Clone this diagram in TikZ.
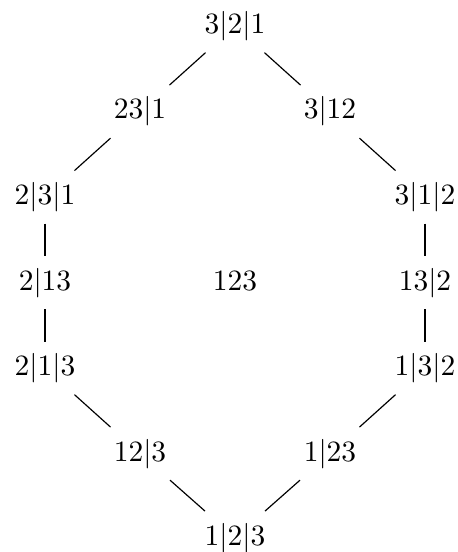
\documentclass[tikz,border=0pt]{standalone}
\begin{document}
\begin{tikzpicture}[x=0.339pt,y=-0.339pt,
  lbl/.style={inner sep=3.8pt, text height=7.5pt, text depth=2.5pt, anchor=base},
  edge/.style={line width=0.4pt}]
\useasboundingbox (0,0) rectangle (458,552);
\node[lbl] (a) at (235,33.5) {3|2|1};
\node[lbl] (b) at (140,119) {23|1};
\node[lbl] (c) at (330,119) {3|12};
\node[lbl] (d) at (45,204.5) {2|3|1};
\node[lbl] (e) at (425,204.5) {3|1|2};
\node[lbl] (f) at (45,290) {2|13};
\node[lbl] (g) at (235,290) {123};
\node[lbl] (h) at (425,290) {13|2};
\node[lbl] (i) at (45,375.5) {2|1|3};
\node[lbl] (j) at (425,375.5) {1|3|2};
\node[lbl] (k) at (140,461) {12|3};
\node[lbl] (l) at (330,461) {1|23};
\node[lbl] (m) at (235,545) {1|2|3};
\draw[edge] (a) -- (b);
\draw[edge] (a) -- (c);
\draw[edge] (b) -- (d);
\draw[edge] (c) -- (e);
\draw[edge] (d) -- (f);
\draw[edge] (f) -- (i);
\draw[edge] (e) -- (h);
\draw[edge] (h) -- (j);
\draw[edge] (i) -- (k);
\draw[edge] (j) -- (l);
\draw[edge] (k) -- (m);
\draw[edge] (l) -- (m);
\end{tikzpicture}
\end{document}
